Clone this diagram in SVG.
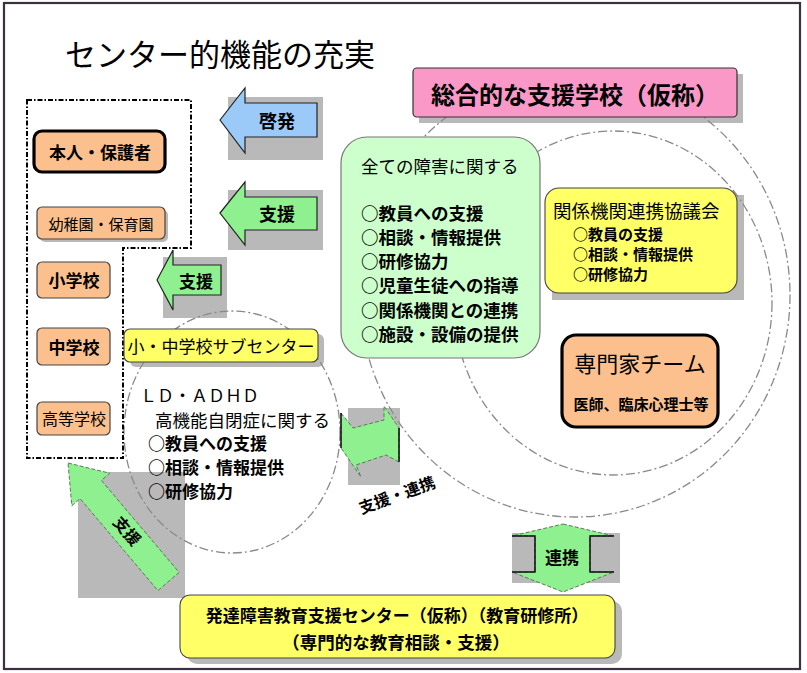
<svg xmlns="http://www.w3.org/2000/svg" width="807" height="673" viewBox="0 0 807 673">
<defs>
<style>
text{font-family:"Noto Sans CJK JP","Noto Sans",sans-serif;fill:#000}
.b{font-weight:bold}
.m{text-anchor:middle}
.sh{fill:#b9b9b9}
.org{fill:#fbc08e;stroke:#444;stroke-width:1.2}
.orgK{fill:#fbc08e;stroke:#000;stroke-width:3.2}
.yel{fill:#ffff66;stroke:#444;stroke-width:1.1}
.circ{fill:none;stroke:#8a8a8a;stroke-width:1.3;stroke-dasharray:9 3 2 3}
.ga{fill:#8ef08e;stroke:#5a7a5a;stroke-width:1;stroke-dasharray:4 2}
.la{stroke:#222;stroke-width:1.2}
.br{fill:none;stroke:#111;stroke-width:1.5}
</style>
</defs>

<rect x="4" y="3" width="796" height="666" fill="#fff" stroke="#3c3040" stroke-width="2.2"/>

<text id="title" x="65" y="66" font-size="31">センター的機能の充実</text>

<!-- shadows -->
<g id="shadows">
  <rect class="sh" x="228" y="97" width="95" height="63"/>
  <rect class="sh" x="228" y="190" width="95" height="60"/>
  <rect class="sh" x="163" y="257" width="64" height="61"/>
  <rect class="sh" x="78" y="472" width="107" height="126"/>
  <rect class="sh" x="348" y="408" width="52" height="77"/>
  <rect class="sh" x="512" y="533" width="108" height="50"/>
  <rect class="sh" x="419" y="74" width="324" height="49"/>
  <rect class="sh" x="552" y="195" width="192" height="105"/>
  <rect class="sh" x="187" y="601" width="435" height="63" rx="10"/>
  <rect class="sh" x="130" y="334" width="194" height="33" rx="6"/>
  <rect class="sh" x="40" y="210" width="128" height="32" rx="5"/>
</g>

<!-- dashed circles -->
<g id="circles">
  <ellipse class="circ" cx="575" cy="295" rx="215" ry="222"/>
  <ellipse class="circ" cx="613" cy="303" rx="159" ry="172"/>
  <ellipse class="circ" cx="232" cy="432" rx="108" ry="121"/>
</g>

<!-- left group -->
<path id="leftgroup" d="M27,100 H191 V248 H123 V458 H27 Z" fill="none" stroke="#000" stroke-width="2" stroke-dasharray="5 2 1.5 2"/>

<g id="n-honnin">
  <rect class="orgK" x="34" y="131" width="131" height="41" rx="8"/>
  <text class="b m" x="100" y="159" font-size="17">本人・保護者</text>
</g>
<g id="n-youchien">
  <rect class="org" x="37" y="207" width="128" height="32" rx="5"/>
  <text class="m" x="101" y="230" font-size="15">幼稚園・保育園</text>
</g>
<g id="n-shou">
  <rect class="org" x="37" y="262" width="73" height="36" rx="5"/>
  <text class="b m" x="74" y="287" font-size="17">小学校</text>
</g>
<g id="n-chuu">
  <rect class="org" x="37" y="328" width="73" height="37" rx="5"/>
  <text class="b m" x="74" y="354" font-size="17">中学校</text>
</g>
<g id="n-koutou">
  <rect class="org" x="37" y="402" width="73" height="33" rx="5"/>
  <text class="m" x="74" y="425" font-size="16">高等学校</text>
</g>

<g id="n-subcenter">
  <rect class="yel" x="124" y="329" width="194" height="33" rx="6"/>
  <text class="m" x="221" y="353" font-size="17">小・中学校サブセンター</text>
</g>

<g id="n-ld">
  <text x="140" y="402" font-size="17">ＬＤ・ＡＤＨＤ</text>
  <text x="155" y="427" font-size="17.5">高機能自閉症に関する</text>
  <text class="b" x="148" y="450" font-size="17">○教員への支援</text>
  <text class="b" x="148" y="474" font-size="17">○相談・情報提供</text>
  <text class="b" x="148" y="498" font-size="17">○研修協力</text>
</g>

<g id="n-sougou">
  <rect x="413" y="68" width="324" height="49" rx="4" fill="#fa98c8" stroke="#333" stroke-width="1.2"/>
  <text class="b m" x="575" y="104" font-size="24">総合的な支援学校（仮称）</text>
</g>

<g id="n-subete">
  <rect x="341" y="137" width="199" height="221" rx="26" fill="#ccffcc" stroke="#777" stroke-width="1.2"/>
  <text x="361" y="173" font-size="17.5">全ての障害に関する</text>
  <text class="b" x="361" y="220" font-size="17.5">○教員への支援</text>
  <text class="b" x="361" y="244" font-size="17.5">○相談・情報提供</text>
  <text class="b" x="361" y="268" font-size="17.5">○研修協力</text>
  <text class="b" x="361" y="292" font-size="17.5">○児童生徒への指導</text>
  <text class="b" x="361" y="317" font-size="17.5">○関係機関との連携</text>
  <text class="b" x="361" y="341" font-size="17.5">○施設・設備の提供</text>
</g>

<g id="n-kyougikai">
  <rect class="yel" x="545" y="188" width="192" height="105" rx="14"/>
  <text x="553" y="218" font-size="18.5">関係機関連携協議会</text>
  <text class="b" x="573" y="240" font-size="15">○教員の支援</text>
  <text class="b" x="573" y="260" font-size="15">○相談・情報提供</text>
  <text class="b" x="573" y="280" font-size="15">○研修協力</text>
</g>

<g id="n-senmonka">
  <rect class="orgK" x="562" y="335" width="156" height="92" rx="14" stroke-width="3.5"/>
  <text class="m" x="640" y="372" font-size="22">専門家チーム</text>
  <text class="b m" x="641" y="410" font-size="15">医師、臨床心理士等</text>
</g>

<g id="n-hattatsu">
  <rect class="yel" x="180" y="595" width="435" height="63" rx="10"/>
  <text class="b m" x="397" y="622" font-size="17">発達障害教育支援センター（仮称）（教育研修所）</text>
  <text class="b m" x="396" y="649" font-size="17.5">（専門的な教育相談・支援）</text>
</g>

<!-- connectors -->
<g id="connectors">
  <g id="c-keihatsu">
    <polygon class="la" fill="#9ccaf8" points="220,120 245,88 245,103 317,103 317,137 245,137 245,153"/>
    <text class="b m" x="277" y="128" font-size="18">啓発</text>
  </g>
  <g id="c-shien1">
    <polygon class="la" fill="#8ef08e" points="220,213 245,182 245,197 317,197 317,230 245,230 245,245"/>
    <text class="b m" x="277" y="221" font-size="18">支援</text>
  </g>
  <g id="c-shien2">
    <polygon class="la" fill="#8ef08e" points="157,280 173,250 173,265 221,265 221,295 173,295 173,310"/>
    <text class="b m" x="196" y="288" font-size="17">支援</text>
  </g>
  <g id="c-shien3">
    <polygon class="ga" points="68,463 109.7,473.2 101.4,480.4 179.1,572.4 157.9,590.6 80.1,498.6 71.8,505.8"/>
    <text class="b m" transform="translate(127,531) rotate(49)" y="6" font-size="16">支援</text>
  </g>
  <g id="c-shienrenkei">
    <polygon class="ga" points="341,413 353,428 384,420 384,406 399,428 399,462 386,455 356,465 361,477 341,448"/>
    <path class="br" d="M341,413 V448 M399,428 V462"/>
    <text class="b m" transform="translate(397,495) rotate(-20)" y="6" font-size="16">支援・連携</text>
  </g>
  <g id="c-renkei">
    <polygon class="ga" points="563,524 614,536 590,536 590,572 614,572 563,592 512,572 535,572 535,536 512,536"/>
    <path class="br" d="M512,536 H535 V572 H512 M614,536 H590 V572 H614"/>
    <text class="b m" x="562" y="564" font-size="17">連携</text>
  </g>
</g>
</svg>
